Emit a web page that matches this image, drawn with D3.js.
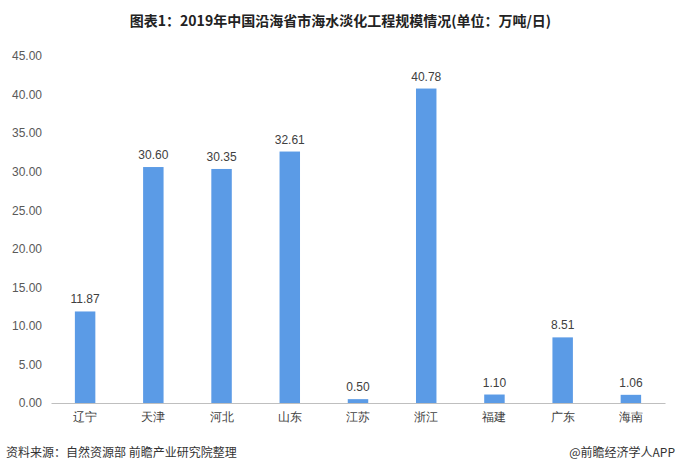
<!DOCTYPE html>
<html><head><meta charset="utf-8">
<script src="https://cdn.jsdelivr.net/npm/d3@7"></script>
<style>body{margin:0;background:#fff;font-family:"Noto Sans CJK SC","Noto Sans",sans-serif;}</style>
</head><body><div id="chart"></div>
<script>
const categories = ['辽宁', '天津', '河北', '山东', '江苏', '浙江', '福建', '广东', '海南'];
const values = [11.87, 30.60, 30.35, 32.61, 0.50, 40.78, 1.10, 8.51, 1.06];
const yTicks = [0, 5, 10, 15, 20, 25, 30, 35, 40, 45];

const width = 681, height = 473;
const margin = { top: 56, right: 16, bottom: 70, left: 51 };
const svg = d3.select('#chart').append('svg').attr('width', width).attr('height', height);

const x = d3.scaleBand().domain(categories).range([margin.left, width - margin.right]).paddingInner(0.7).paddingOuter(0.35);
const y = d3.scaleLinear().domain([0, 45]).range([height - margin.bottom, margin.top]);

svg.append('text').attr('x', width / 2).attr('y', 26).attr('text-anchor', 'middle')
  .style('font-size', '14px').style('font-weight', 'bold').style('fill', '#222')
  .text('图表1：2019年中国沿海省市海水淡化工程规模情况(单位：万吨/日)');

const yAxis = svg.append('g').attr('transform', `translate(${margin.left - 6},0)`)
  .call(d3.axisLeft(y).tickValues(yTicks).tickFormat(d3.format('.2f')).tickSize(0));
yAxis.select('.domain').remove();
yAxis.selectAll('text').style('font-size', '12px').style('fill', '#595959').style('font-family', 'Liberation Sans, sans-serif');

svg.selectAll('.bar').data(values).join('rect')
  .attr('x', (d, i) => x(categories[i])).attr('width', x.bandwidth())
  .attr('y', d => y(d)).attr('height', d => y(0) - y(d)).attr('fill', '#5b9be6');

svg.selectAll('.lbl').data(values).join('text')
  .attr('x', (d, i) => x(categories[i]) + x.bandwidth() / 2).attr('y', d => y(d) - 8)
  .attr('text-anchor', 'middle').style('font-size', '12px').style('fill', '#404040')
  .style('font-family', 'Liberation Sans, sans-serif').text(d => d.toFixed(2));

const xAxis = svg.append('g').attr('transform', `translate(0,${y(0)})`)
  .call(d3.axisBottom(x).tickSize(0).tickPadding(9));
xAxis.select('.domain').attr('stroke', '#bfbfbf');
xAxis.selectAll('text').style('font-size', '12px').style('fill', '#404040');

svg.append('text').attr('x', 6).attr('y', 457).style('font-size', '12px').style('fill', '#333')
  .text('资料来源：自然资源部 前瞻产业研究院整理');
svg.append('text').attr('x', width - 6).attr('y', 457).attr('text-anchor', 'end').style('font-size', '12px').style('fill', '#333')
  .text('@前瞻经济学人APP');
</script></body></html>
